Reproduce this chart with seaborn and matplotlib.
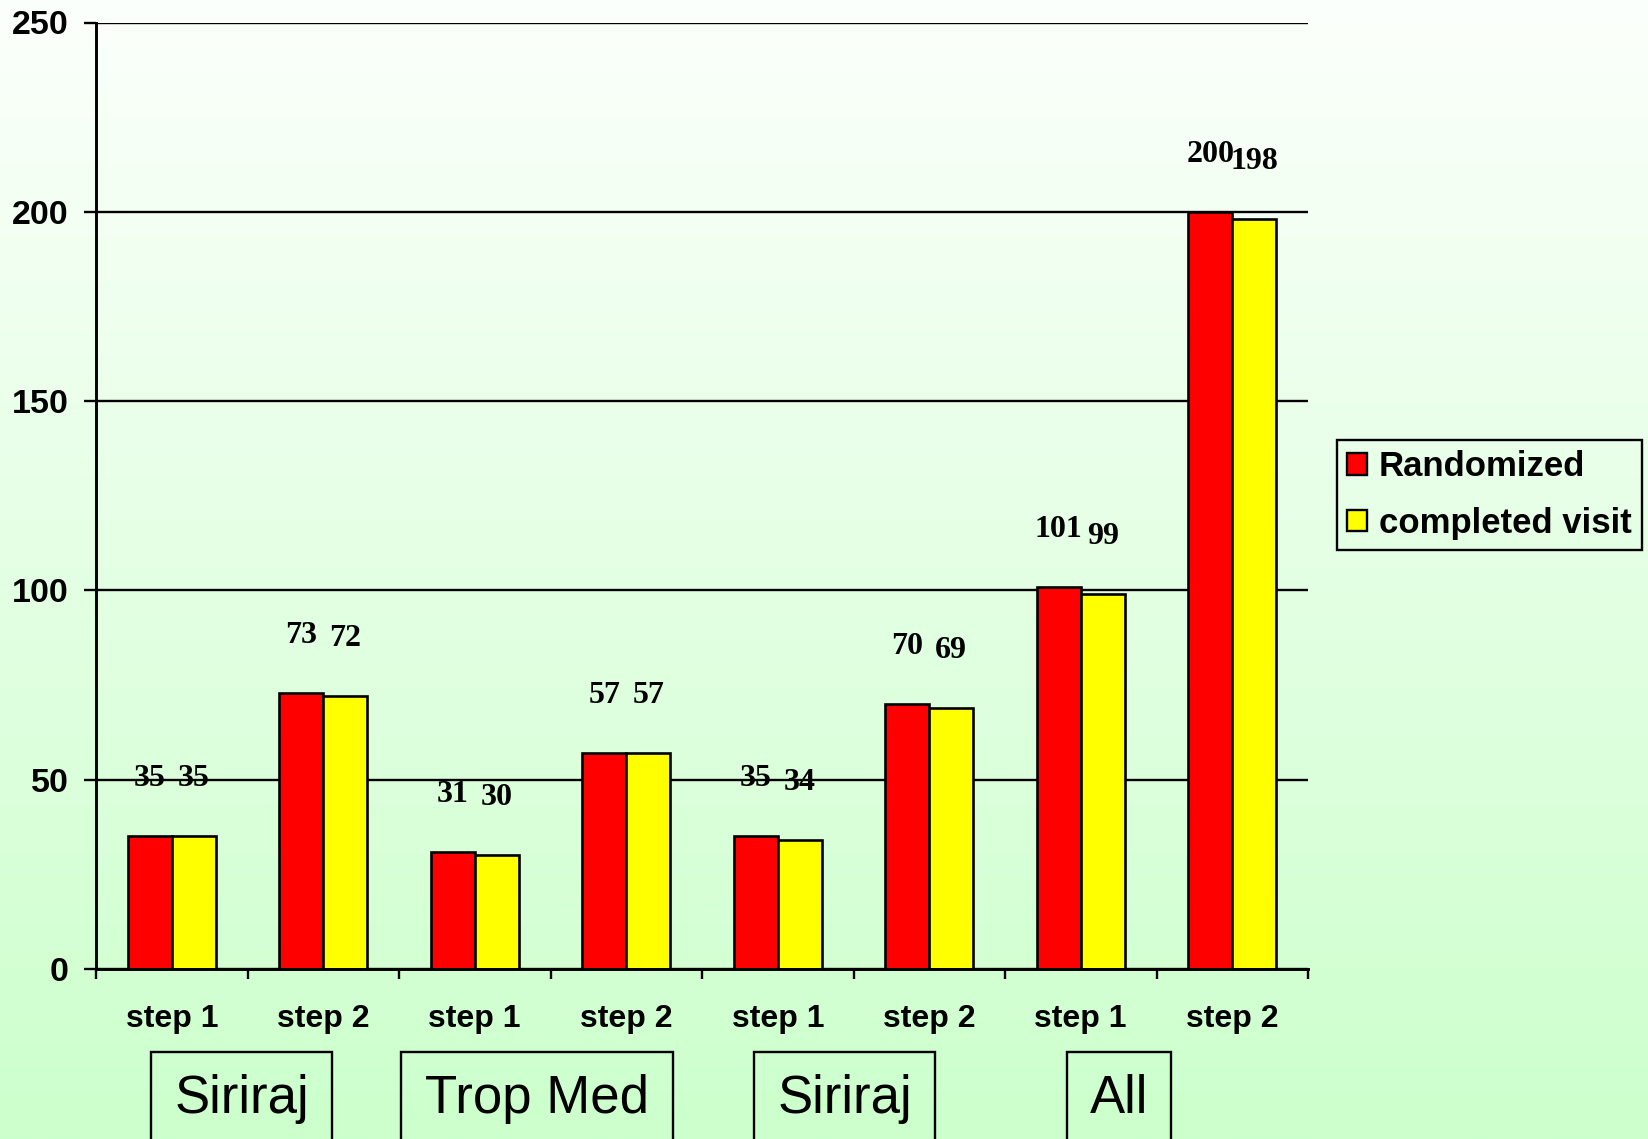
import numpy as np
import pandas as pd
import matplotlib
matplotlib.use("Agg")
import matplotlib.pyplot as plt
from matplotlib.patches import Rectangle
import seaborn as sns

# --- data -------------------------------------------------------------
steps = ["step 1", "step 2", "step 1", "step 2", "step 1", "step 2", "step 1", "step 2"]
sites = ["Siriraj", "Trop Med", "Siriraj", "All"]
randomized = [35, 73, 31, 57, 35, 70, 101, 200]
completed = [35, 72, 30, 57, 34, 69, 99, 198]
series_names = ["Randomized", "completed visit"]
yticks = [0, 50, 100, 150, 200, 250]

# --- figure -----------------------------------------------------------
W, H = 1649, 1139
plt.rcParams["font.family"] = ["Liberation Sans", "DejaVu Sans"]
fig = plt.figure(figsize=(W / 100, H / 100), dpi=100)

# vertical light-green gradient background
bg = fig.add_axes([0, 0, 1, 1], zorder=-10)
top_c = np.array([0.988, 1.0, 0.988])
bot_c = np.array([0.80, 1.0, 0.80])
t = np.linspace(0, 1, 512)[:, None, None]
grad = top_c * (1 - t) + bot_c * t
bg.imshow(grad, aspect="auto", extent=[0, 1, 0, 1])
bg.axis("off")

ax = fig.add_axes([96 / W, 1 - 969 / H, (1308 - 96) / W, (969 - 22.5) / H])
ax.patch.set_alpha(0)

keys = [f"c{i}" for i in range(len(steps))]
df = pd.DataFrame({
    "key": keys * 2,
    "value": randomized + completed,
    "series": [series_names[0]] * len(keys) + [series_names[1]] * len(keys),
})

sns.barplot(data=df, x="key", y="value", hue="series", order=keys,
            hue_order=series_names, palette=["#FF0000", "#FFFF00"],
            saturation=1, width=0.58, gap=0, edgecolor="black",
            linewidth=1.9, ax=ax, zorder=3)

# value labels above each bar
for cont, vals in zip(ax.containers, [randomized, completed]):
    for bar, v in zip(cont, vals):
        ax.annotate(str(v), (bar.get_x() + bar.get_width() / 2, v),
                    xytext=(0, 36), textcoords="offset points",
                    ha="center", va="baseline",
                    family=["Liberation Serif", "DejaVu Serif"],
                    weight="bold", size=23, zorder=5)

# axes styling
ax.set_ylim(0, 250)
ax.set_xlim(-0.5, len(steps) - 0.5)
ax.set_yticks(yticks)
ax.set_yticklabels([str(v) for v in yticks], weight="bold", size=24.5)
ax.yaxis.grid(True, color="black", lw=1.7, zorder=1)
ax.set_axisbelow(True)
ax.tick_params(axis="y", length=8.6, width=1.7, pad=11, color="black")

ax.set_xticks(range(len(steps)))
ax.set_xticklabels(steps, weight="bold", size=23)
ax.tick_params(axis="x", which="major", length=0, pad=25.5)
ax.set_xticks(np.arange(-0.5, len(steps), 1.0), minor=True)
ax.tick_params(axis="x", which="minor", length=7, width=1.7, direction="out",
               color="black")
ax.set_xlabel("")
ax.set_ylabel("")

for s in ["top", "right"]:
    ax.spines[s].set_visible(False)
for s in ["left", "bottom"]:
    ax.spines[s].set_color("black")
    ax.spines[s].set_linewidth(2.1)
    ax.spines[s].set_zorder(4)

# legend
handles, labels = ax.get_legend_handles_labels()
leg = ax.legend(handles, labels, loc="upper left",
                bbox_to_anchor=(1337 / W, 1 - 440 / H),
                bbox_transform=fig.transFigure, borderaxespad=0,
                prop={"family": "Liberation Sans", "weight": "bold", "size": 25},
                handlelength=0.57, handleheight=0.57, handletextpad=0.33,
                labelspacing=0.68, borderpad=0.3, fancybox=False,
                frameon=True, framealpha=1)
leg.get_frame().set_facecolor("none")
leg.get_frame().set_edgecolor("black")
leg.get_frame().set_linewidth(1.7)
for h in leg.legend_handles:
    h.set_edgecolor("black")
    h.set_linewidth(1.7)

# site boxes under the step labels (left, right in pixels)
site_boxes = [(151, 332), (401, 673), (754, 935), (1067, 1171)]
for name, (x0, x1) in zip(sites, site_boxes):
    fig.add_artist(Rectangle((x0 / W, -0.02), (x1 - x0) / W, 1 - 1052 / H + 0.02,
                             transform=fig.transFigure, fill=False,
                             ec="black", lw=1.7))
    fig.text((x0 + x1) / 2 / W, 1 - 1113 / H, name, ha="center",
             va="baseline", size=38, family="Liberation Sans")

fig.savefig("out.png", dpi=100)
